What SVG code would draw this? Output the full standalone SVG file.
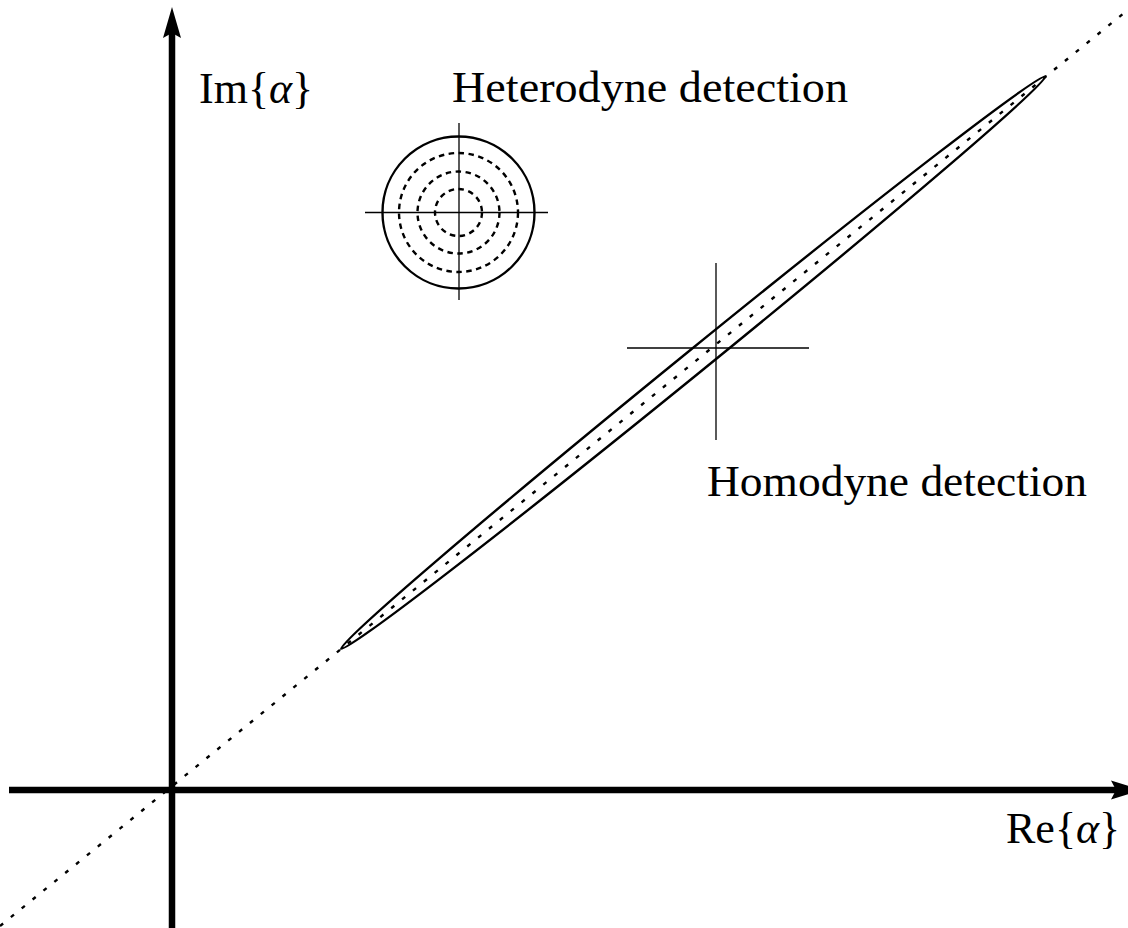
<svg xmlns="http://www.w3.org/2000/svg" width="1128" height="928" viewBox="0 0 1128 928">
  <style>
    .lbl { font-family: "Liberation Serif", "DejaVu Serif", serif; font-size: 44px; fill: #000; }
    .it { font-style: italic; }
    .axis { stroke: #000; stroke-width: 6.5; fill: none; }
    .thin { stroke: #000; stroke-width: 1.3; fill: none; }
    .solid { stroke: #000; stroke-width: 2.4; fill: none; }
    .dash { stroke: #000; stroke-width: 2.4; fill: none; stroke-dasharray: 5.5 4.5; }
    .dot { stroke: #000; stroke-width: 2.4; fill: none; stroke-dasharray: 4 10; }
  </style>
  <rect width="1128" height="928" fill="#fff"/>

  <g id="diagonal">
    <line class="dot" x1="0" y1="926" x2="1140" y2="0"/>
  </g>

  <g id="axes">
    <line class="axis" x1="172" y1="935" x2="172" y2="30"/>
    <path d="M172,7 L181,38 L172,33 L163,38 Z" fill="#000"/>
    <line class="axis" x1="9" y1="790" x2="1120" y2="790"/>
    <path d="M1142,790 L1111,799.5 L1116,790 L1111,780.5 Z" fill="#000"/>
  </g>

  <g id="homodyne">
    <ellipse class="solid" cx="693.4" cy="362.5" rx="454" ry="11.6" transform="rotate(-39.1 693.4 362.5)"/>
    <line class="thin" x1="627" y1="348" x2="809" y2="348"/>
    <line class="thin" x1="716" y1="263" x2="716" y2="440"/>
  </g>

  <g id="heterodyne">
    <circle class="solid" cx="458.5" cy="212.5" r="76"/>
    <circle class="dash" cx="458.5" cy="212.5" r="59.5"/>
    <circle class="dash" cx="458.5" cy="212.5" r="41"/>
    <circle class="dash" cx="458.5" cy="212.5" r="23.5"/>
    <line class="thin" x1="365" y1="212.5" x2="548" y2="212.5"/>
    <line class="thin" x1="459" y1="123" x2="459" y2="300"/>
  </g>

  <g id="labels">
    <text class="lbl" x="199" y="103">Im{<tspan class="it">α</tspan>}</text>
    <text class="lbl" x="1006" y="843">Re{<tspan class="it">α</tspan>}</text>
    <text class="lbl" x="452" y="102" textLength="396" lengthAdjust="spacingAndGlyphs">Heterodyne detection</text>
    <text class="lbl" x="707" y="496" textLength="380" lengthAdjust="spacingAndGlyphs">Homodyne detection</text>
  </g>
</svg>
